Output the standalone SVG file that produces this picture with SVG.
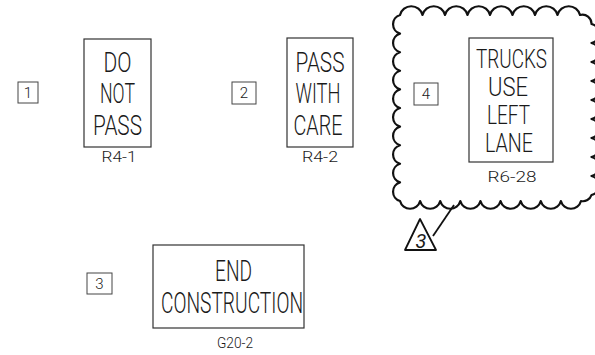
<svg xmlns="http://www.w3.org/2000/svg" width="595" height="355" viewBox="0 0 595 355">
<style>
.sign{fill:none;stroke:#333;stroke-width:1.2}
.lbl{fill:none;stroke:#444;stroke-width:1}
.t{font-family:Roboto,"Liberation Sans",Arial,sans-serif;font-weight:300;fill:#1a1a1a;text-anchor:middle}
.big{font-size:27px}
.code{font-size:15px}
.num{font-size:15px}
.cloud{fill:none;stroke:#111;stroke-width:2.2;stroke-linejoin:round}
</style>
<rect width="595" height="355" fill="#fff"/>
<g id="label1">
<rect class="lbl" x="18" y="82" width="20" height="21"/>
<text class="t num" x="28" y="98">1</text>
</g>
<g id="sign-R4-1">
<rect class="sign" x="84" y="39" width="67" height="108"/>
<text class="t big" x="117.5" y="72" textLength="28" lengthAdjust="spacingAndGlyphs">DO</text>
<text class="t big" x="117.5" y="103" textLength="35" lengthAdjust="spacingAndGlyphs">NOT</text>
<text class="t big" x="117.5" y="135" textLength="49" lengthAdjust="spacingAndGlyphs">PASS</text>
<text class="t code" x="119" y="162" textLength="35" lengthAdjust="spacingAndGlyphs">R4-1</text>
</g>
<g id="label2">
<rect class="lbl" x="232" y="82" width="24" height="22"/>
<text class="t num" x="244" y="98">2</text>
</g>
<g id="sign-R4-2">
<rect class="sign" x="287" y="38" width="66" height="109"/>
<text class="t big" x="320" y="72" textLength="49" lengthAdjust="spacingAndGlyphs">PASS</text>
<text class="t big" x="318" y="103" textLength="45" lengthAdjust="spacingAndGlyphs">WITH</text>
<text class="t big" x="318" y="135" textLength="49" lengthAdjust="spacingAndGlyphs">CARE</text>
<text class="t code" x="320" y="162" textLength="36" lengthAdjust="spacingAndGlyphs">R4-2</text>
</g>
<g id="cloud4">
<path class="cloud" d="M400,15 a11.6 11.6 0 0 1 22.5 0 a11.6 11.6 0 0 1 22.5 0 a11.6 11.6 0 0 1 22.5 0 a11.6 11.6 0 0 1 22.5 0 a11.6 11.6 0 0 1 22.5 0 a11.6 11.6 0 0 1 22.5 0 a11.6 11.6 0 0 1 22.5 0 a11.6 11.6 0 0 1 22.5 0 A9 9 0 0 1 591.5,24 a9.8 9.8 0 0 1 0 19 a9.8 9.8 0 0 1 0 19 a9.8 9.8 0 0 1 0 19 a9.8 9.8 0 0 1 0 19 a9.8 9.8 0 0 1 0 19 a9.8 9.8 0 0 1 0 19 a9.8 9.8 0 0 1 0 19 a9.8 9.8 0 0 1 0 19 a9.8 9.8 0 0 1 0 19 A9 9 0 0 1 581,201 a10.4 10.4 0 0 1 -20.11 0 a10.4 10.4 0 0 1 -20.11 0 a10.4 10.4 0 0 1 -20.11 0 a10.4 10.4 0 0 1 -20.11 0 a10.4 10.4 0 0 1 -20.11 0 a10.4 10.4 0 0 1 -20.11 0 a10.4 10.4 0 0 1 -20.11 0 a10.4 10.4 0 0 1 -20.11 0 a10.4 10.4 0 0 1 -20.11 0 a9.7 9.7 0 0 1 0 -18.6 a9.7 9.7 0 0 1 0 -18.6 a9.7 9.7 0 0 1 0 -18.6 a9.7 9.7 0 0 1 0 -18.6 a9.7 9.7 0 0 1 0 -18.6 a9.7 9.7 0 0 1 0 -18.6 a9.7 9.7 0 0 1 0 -18.6 a9.7 9.7 0 0 1 0 -18.6 a9.7 9.7 0 0 1 0 -18.6 a9.7 9.7 0 0 1 0 -18.6 Z"/>
</g>
<g id="label4">
<rect class="lbl" x="414" y="83" width="24" height="22"/>
<text class="t num" x="426" y="99">4</text>
</g>
<g id="sign-R6-28">
<rect class="sign" x="469" y="38" width="84" height="124"/>
<text class="t" style="font-size:26px" x="511.5" y="68" textLength="71" lengthAdjust="spacingAndGlyphs">TRUCKS</text>
<text class="t" style="font-size:26px" x="508" y="96" textLength="40" lengthAdjust="spacingAndGlyphs">USE</text>
<text class="t" style="font-size:26px" x="508.5" y="124" textLength="43" lengthAdjust="spacingAndGlyphs">LEFT</text>
<text class="t" style="font-size:26px" x="509" y="152" textLength="48" lengthAdjust="spacingAndGlyphs">LANE</text>
<text class="t code" x="512" y="182" textLength="49" lengthAdjust="spacingAndGlyphs">R6-28</text>
</g>
<g id="revision-triangle">
<polygon points="420,219 405,250 436,250" fill="none" stroke="#111" stroke-width="1.8" stroke-linejoin="round"/>
<text class="t" style="font-size:20px;font-style:italic;font-weight:400" x="421" y="248">3</text>
</g>
<g id="connectors">
<line x1="433" y1="236" x2="454" y2="205" stroke="#111" stroke-width="1.8"/>
</g>
<g id="label3">
<rect class="lbl" x="87" y="273" width="25" height="21"/>
<text class="t num" x="99.5" y="289">3</text>
</g>
<g id="sign-G20-2">
<rect class="sign" x="153" y="245" width="151" height="83"/>
<text class="t" style="font-size:29px" x="233.5" y="281" textLength="37" lengthAdjust="spacingAndGlyphs">END</text>
<text class="t" style="font-size:29px" x="232" y="313" textLength="142" lengthAdjust="spacingAndGlyphs">CONSTRUCTION</text>
<text class="t code" x="235" y="348" textLength="36" lengthAdjust="spacingAndGlyphs">G20-2</text>
</g>
</svg>
